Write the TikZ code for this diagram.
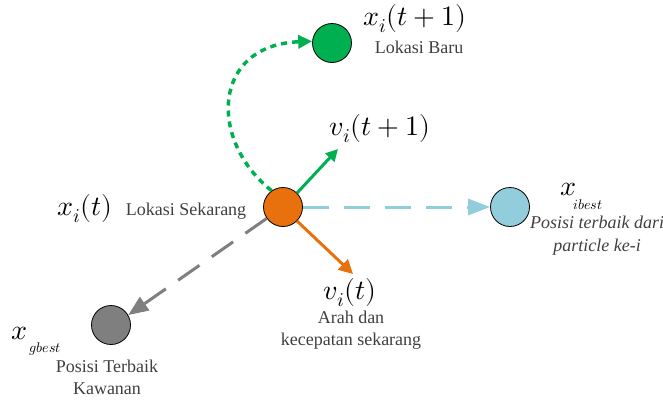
\documentclass[tikz,border=0pt]{standalone}
\usepackage{fontspec}
\usepackage{unicode-math}
\setmainfont{Liberation Serif}
\setmathfont{Latin Modern Math}
\usetikzlibrary{arrows.meta}
\definecolor{porange}{HTML}{E8710E}
\definecolor{pgreen}{HTML}{00B050}
\definecolor{pblue}{HTML}{92CDDC}
\definecolor{pgray}{HTML}{7F7F7F}
\definecolor{ptext}{HTML}{404040}
\tikzset{
  dot/.style={circle,draw=black,line width=0.8pt,minimum width=39pt,minimum height=38pt,inner sep=0pt},
  lbl/.style={text=ptext,font=\fontsize{18}{22}\selectfont,align=center,inner sep=0pt},
  mth/.style={font=\fontsize{28}{32}\selectfont,inner sep=0pt},
  sub/.style={font=\fontsize{14}{16}\selectfont,inner sep=0pt},
  dashline/.style={line width=3pt,dash pattern=on 26pt off 15pt},
}
\begin{document}
\begin{tikzpicture}[x=1pt,y=-1pt]
\useasboundingbox (0,0) rectangle (663,399);
\node[dot,fill=porange] (o) at (283,207) {};
\node[dot,fill=pgreen] (g) at (332,43) {};
\node[dot,fill=pblue] (b) at (510,207) {};
\node[dot,fill=pgray] (k) at (111,325) {};
\coordinate (vt1) at (338,149);
\coordinate (vt) at (353,274);
% arrows
\draw[pgreen,line width=3pt,-{Triangle[length=12pt,width=12pt]}] (o.45) -- (vt1);
\draw[porange,line width=3pt,-{Triangle[length=14pt,width=14pt]}] (o.-45) -- (vt);
\draw[pblue,dashline,-{Triangle[length=22pt,width=16pt]}] (o.east) -- (b.west);
\draw[pgray,dashline,-{Triangle[length=20pt,width=16pt]}] (o.-145) -- (k.30);
\draw[pgreen,line width=3.5pt,dash pattern=on 6pt off 5pt,-{Triangle[length=14pt,width=13pt]}] (o.125) .. controls (208,140) and (212,45) .. (g.175);
% texts
\node[mth] (m1) at (415,19) {$x_i(t+1)$};
\node[lbl] (l1) at (419,47) {Lokasi Baru};
\node[mth] (m2) at (380,129) {$v_i(t+1)$};
\node[mth] (m3) at (85,209) {$x_i(t)$};
\node[lbl] (l3) at (186,211) {Lokasi Sekarang};
\node[mth] (m4) at (350,293) {$v_i(t)$};
\node[lbl] (l4) at (351,330) {Arah dan\\kecepatan sekarang};
\node[mth] (m5) at (568,189) {$x$};
\node[sub] (s5) at (588,205) {$ibest$};
\node[lbl,font=\fontsize{18}{23}\selectfont\itshape] (l5) at (597,236) {Posisi terbaik dari\\particle ke-i};
\node[mth] (m6) at (20,333) {$x$};
\node[sub] (s6) at (45,349) {$gbest$};
\node[lbl] (l6) at (107,377) {Posisi Terbaik\\Kawanan};
\end{tikzpicture}
\end{document}
